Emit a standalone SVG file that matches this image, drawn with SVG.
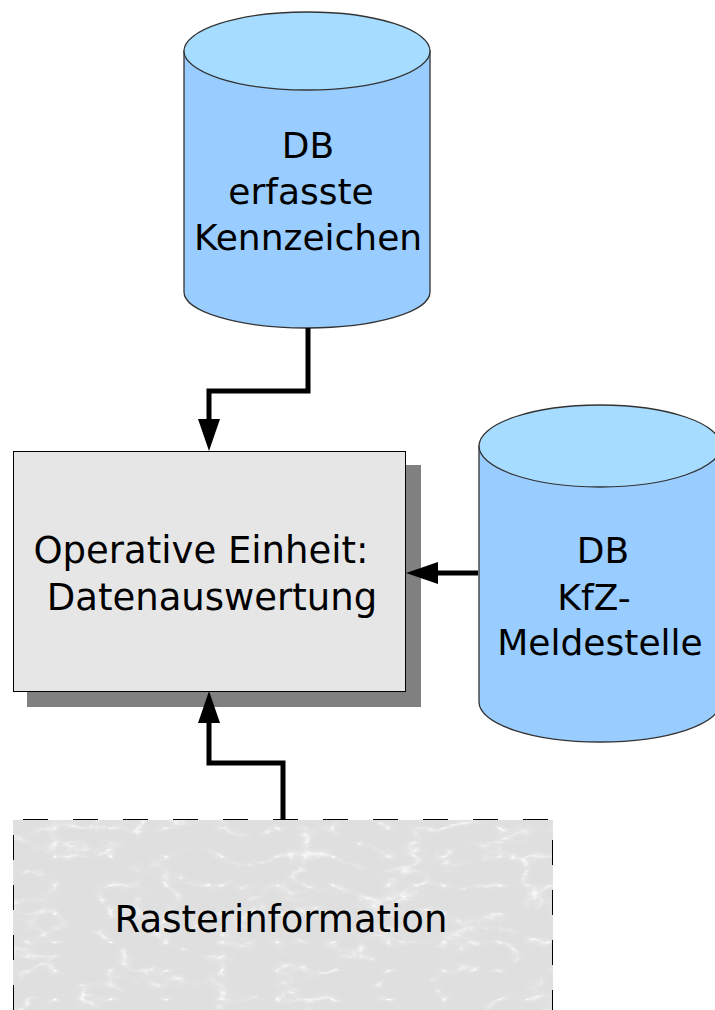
<svg xmlns="http://www.w3.org/2000/svg" width="715" height="1010" viewBox="0 0 715 1010">
  <style>
    .label { font-family: "DejaVu Sans", "Liberation Sans", sans-serif; fill: #000; text-anchor: middle; }
    .db-body { fill: #99ccff; stroke: #333; stroke-width: 1.3; }
    .db-top { fill: #a6dcff; stroke: #333; stroke-width: 1.3; }
    .flow { fill: none; stroke: #000; stroke-width: 5; stroke-linejoin: miter; marker-end: url(#head); }
  </style>
  <defs>
    <marker id="head" markerUnits="userSpaceOnUse" markerWidth="32" markerHeight="22" refX="0" refY="11" orient="auto" viewBox="0 0 32 22">
      <path d="M0,0 L32,11 L0,22 Z" fill="#000"/>
    </marker>
    <!-- light grey marble: thin white veins on a flat grey ground -->
    <filter id="marble" x="0" y="0" width="100%" height="100%" filterUnits="objectBoundingBox" color-interpolation-filters="sRGB">
      <feTurbulence type="turbulence" baseFrequency="0.018 0.035" numOctaves="4" seed="11" result="noise"/>
      <feColorMatrix in="noise" type="matrix" values="1 0 0 0 0  1 0 0 0 0  1 0 0 0 0  0 0 0 0 1" result="grey"/>
      <feComponentTransfer in="grey">
        <feFuncR type="table" tableValues="1 0.94 0.9 0.885 0.88 0.875 0.875 0.875 0.875 0.875 0.875 0.875 0.875 0.875 0.875 0.875"/>
        <feFuncG type="table" tableValues="1 0.94 0.9 0.885 0.88 0.875 0.875 0.875 0.875 0.875 0.875 0.875 0.875 0.875 0.875 0.875"/>
        <feFuncB type="table" tableValues="1 0.94 0.9 0.885 0.88 0.875 0.875 0.875 0.875 0.875 0.875 0.875 0.875 0.875 0.875 0.875"/>
      </feComponentTransfer>
    </filter>
  </defs>

  <!-- database of captured number plates -->
  <g id="db-kennzeichen">
    <path class="db-body" d="M184,51 L184,292 A123,36 0 0 0 430,292 L430,51 Z"/>
    <ellipse class="db-top" cx="307" cy="51" rx="123" ry="39"/>
    <text class="label" font-size="36" x="308" y="158">DB</text>
    <text class="label" font-size="36" x="301" y="204">erfasste</text>
    <text class="label" font-size="36" x="308" y="250">Kennzeichen</text>
  </g>

  <!-- vehicle registration database -->
  <g id="db-kfz">
    <path class="db-body" d="M479,446 L479,702 A121,40 0 0 0 721,702 L721,446 Z"/>
    <ellipse class="db-top" cx="600" cy="446" rx="121" ry="41"/>
    <text class="label" font-size="36" x="603" y="563">DB</text>
    <text class="label" font-size="36" x="594" y="610">KfZ-</text>
    <text class="label" font-size="36" x="600" y="655">Meldestelle</text>
  </g>

  <!-- evaluation unit with drop shadow -->
  <g id="operative-einheit">
    <rect x="27" y="465" width="394" height="242" fill="#808080"/>
    <rect x="13.5" y="451.5" width="392" height="240" fill="#e6e6e6" stroke="#000" stroke-width="1"/>
    <text class="label" font-size="37" x="201" y="563">Operative Einheit:</text>
    <text class="label" font-size="37" x="212" y="610">Datenauswertung</text>
  </g>

  <!-- raster information source -->
  <g id="rasterinformation">
    <rect x="13" y="820" width="540" height="200" fill="#e0e0e0" filter="url(#marble)"/>
    <path d="M13.5,1010 V819.5 H552.5 V1010" fill="none" stroke="#000" stroke-width="1" stroke-dasharray="25 25"/>
    <text class="label" font-size="37" x="281" y="932">Rasterinformation</text>
  </g>

  <g id="connectors">
    <path class="flow" d="M308,328 V391 H209 V419"/>
    <path class="flow" d="M478,573 H438"/>
    <path class="flow" d="M283,819 V763 H209 V723"/>
  </g>
</svg>
